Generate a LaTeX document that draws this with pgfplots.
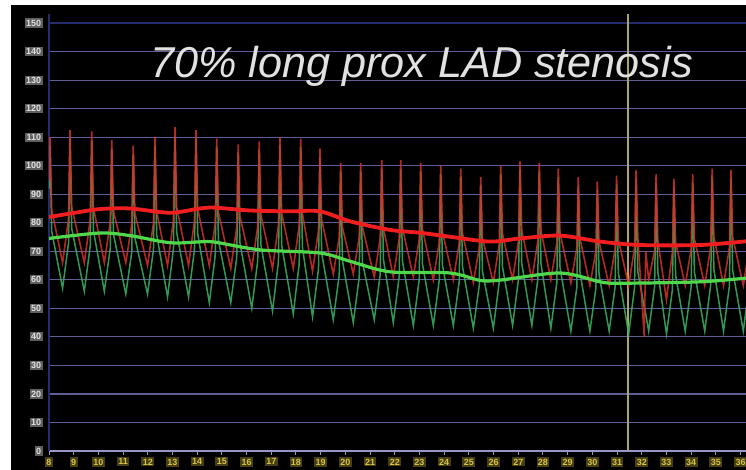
\documentclass[border=0pt]{standalone}
\usepackage{fontspec}
\setmainfont{Liberation Sans}
\usepackage{pgfplots}
\pgfplotsset{compat=1.18}
\usepackage{pgfplotstable}
\definecolor{gridc}{RGB}{95,95,150}
\definecolor{topc}{RGB}{35,45,110}
\definecolor{axc}{RGB}{150,150,200}
\definecolor{cursc}{RGB}{175,165,95}
\definecolor{redp}{RGB}{210,50,40}
\definecolor{greenp}{RGB}{55,170,95}
\definecolor{redm}{RGB}{240,30,30}
\definecolor{greenm}{RGB}{80,215,75}
\definecolor{ylab}{RGB}{215,195,70}
\definecolor{ylabbg}{RGB}{70,62,20}
\definecolor{glab}{RGB}{225,225,225}
\definecolor{glabbg}{RGB}{95,95,95}

\pgfplotstableread{
x red green
8.00 95 92
8.04 110 107
8.11 84.5 77
8.55 66 57
8.79 81.3 72.8
8.85 112.5 109.5
8.92 85.5 78
9.43 66 56
9.67 81.2 71.9
9.73 112 109
9.80 85.3 77.2
10.24 66 56
10.48 80.2 71
10.54 109 106
10.61 84.1 76
11.11 66 55
11.35 79.5 69.7
11.41 107 104
11.48 83.2 74.6
11.99 65 55
12.23 79.9 70.6
12.29 110 107
12.36 83.9 75.8
12.80 65 54
13.04 81 71
13.10 113.5 110.5
13.17 85.4 76.6
13.65 65 54
13.89 80.7 70.7
13.95 112.5 109.5
14.02 85 76.2
14.49 65 52
14.73 79.7 68.4
14.79 109.5 106.5
14.86 83.7 73.8
15.36 64 52
15.60 78.4 67.8
15.66 107.5 104.5
15.73 82.3 73
16.21 64 50
16.45 78.7 66.7
16.51 108.5 105.5
16.58 82.7 72.2
17.05 64 49
17.29 79.2 66.4
17.35 110 107
17.42 83.3 72.2
17.89 64 48
18.13 79 65.6
18.19 109.5 106.5
18.26 83.1 71.4
18.67 63 47
18.91 77.2 63.8
18.97 106 103
19.04 81.1 69.4
19.51 62 46
19.75 74.9 61.6
19.81 101 98
19.88 78.4 66.8
20.32 62 45
20.56 74.9 60.9
20.62 101 98
20.69 78.4 66.2
21.17 61 46
21.41 74.5 61.9
21.47 102 99
21.54 78.2 67.2
21.94 61 45
22.18 74.5 61.2
22.24 102 99
22.31 78.2 66.6
22.75 61 44
22.99 74.2 60.2
23.05 101 98
23.12 77.8 65.6
23.56 60 44
23.80 73.2 59.9
23.86 100 97
23.93 76.8 65.2
24.37 60 44
24.61 72.9 59.6
24.67 99 96
24.74 76.4 64.8
25.18 59 43
25.42 71.2 58
25.48 96 93
25.55 74.5 63
25.99 59 43
26.23 72.5 59.2
26.29 100 97
26.36 76.2 64.6
26.77 60 44
27.01 73.7 60.4
27.07 101.5 98.5
27.14 77.4 65.8
27.55 60 44
27.79 73.5 60.2
27.85 101 98
27.92 77.2 65.6
28.32 60 43
28.56 72.9 58.9
28.62 99 96
28.69 76.4 64.2
29.13 59 42
29.37 71.2 57.3
29.43 96 93
29.50 74.5 62.4
29.90 58 42
30.14 70 56.9
30.20 94.5 91.5
30.27 73.3 61.8
30.68 58 42
30.92 70.7 57.5
30.98 96.5 93.5
31.05 74.2 62.6
31.47 58 41
31.71 71.4 57.4
31.77 98.5 95.5
31.84 75 62.8
32.10 40 50.4
32.16 70 48
32.28 60 42
32.52 70.2 57.6
32.58 97 94
32.65 73.8 62.8
33.00 53 41
33.24 69.7 56.5
33.30 95.5 92.5
33.37 73.2 61.6
33.76 58 42
34.00 70.9 57.6
34.06 97 94
34.13 74.4 62.8
34.55 58 42
34.79 71.5 58.2
34.85 99 96
34.92 75.2 63.6
35.31 58 42
35.55 71.4 58
35.61 98.5 95.5
35.68 75 63.4
36.11 58 42
36.35 71 58
}\trace

\pgfplotstableread{
x y
8.00 82
9.05 83.5
10.06 84.8
11.28 85
12.90 83.5
14.11 85
14.72 85.3
16.14 84.3
17.76 84
18.97 84
20.19 80.5
21.80 77.5
23.02 76.5
24.23 75.1
25.85 73.4
27.07 74.5
28.69 75.5
30.31 73.4
31.93 72.2
34.36 72.2
36.22 73.5
}\redmean

\pgfplotstableread{
x y
8.00 74.5
10.06 76.4
11.28 75.5
12.90 73
14.11 73.3
14.72 73.2
16.54 70.5
18.97 69.4
20.19 66.5
21.80 62.8
24.23 62.4
25.45 59.8
26.26 59.9
28.69 62.4
30.31 59.3
31.12 58.8
34.36 59.3
36.22 60.6
}\greenmean

\begin{document}
\begin{tikzpicture}[x=1pt,y=1pt]
\useasboundingbox (0,0) rectangle (373,235);
\fill[white] (0,0) rectangle (373,235);
\begin{scope}
\clip (0,0) rectangle (373,235);
\fill[black] (5.5,0) rectangle (373,232.5);
\begin{axis}[
  at={(24.5pt,9.5pt)}, anchor=south west,
  scale only axis, width=348.5pt, height=218.25pt,
  xmin=8, xmax=36.22, ymin=0, ymax=153,
  axis x line*=bottom, axis y line*=left,
  x axis line style={draw=axc, line width=0.8pt, -},
  y axis line style={draw=topc, line width=0.6pt, -},
  xtick={8,...,36}, ytick={0,10,...,150},
  xtick align=outside, major tick length=2pt,
  xtick style={draw=axc, line width=0.5pt},
  ytick style={draw=none},
  ymajorgrids, grid style={draw=gridc, line width=0.6pt},
  /pgf/number format/assume math mode=true,
  xticklabel style={font=\fontsize{4.5}{5}\selectfont\bfseries, text=ylab, fill=ylabbg, inner sep=0.7pt, yshift=-1pt},
  yticklabel style={font=\fontsize{4.5}{5}\selectfont\bfseries, text=glab, fill=glabbg, inner sep=0.7pt, xshift=-3pt},
  clip=true,
]
\addplot[topc, line width=1.4pt] coordinates {(8,150) (36.22,150)};
\addplot[cursc, line width=0.6pt] coordinates {(31.44,0) (31.44,153)};
\addplot[greenp, line width=0.75pt, opacity=0.9] table[x=x, y=green] {\trace};
\addplot[redp, line width=0.8pt, opacity=0.85] table[x=x, y=red] {\trace};
\addplot[greenm, line width=1.6pt, smooth] table[x=x, y=y] {\greenmean};
\addplot[redm, line width=1.9pt, smooth] table[x=x, y=y] {\redmean};
\end{axis}
\end{scope}
\node[anchor=base, text=glab, font=\fontsize{21.6}{24}\selectfont\itshape] at (210.75,196) {70\% long prox LAD stenosis};
\end{tikzpicture}
\end{document}
